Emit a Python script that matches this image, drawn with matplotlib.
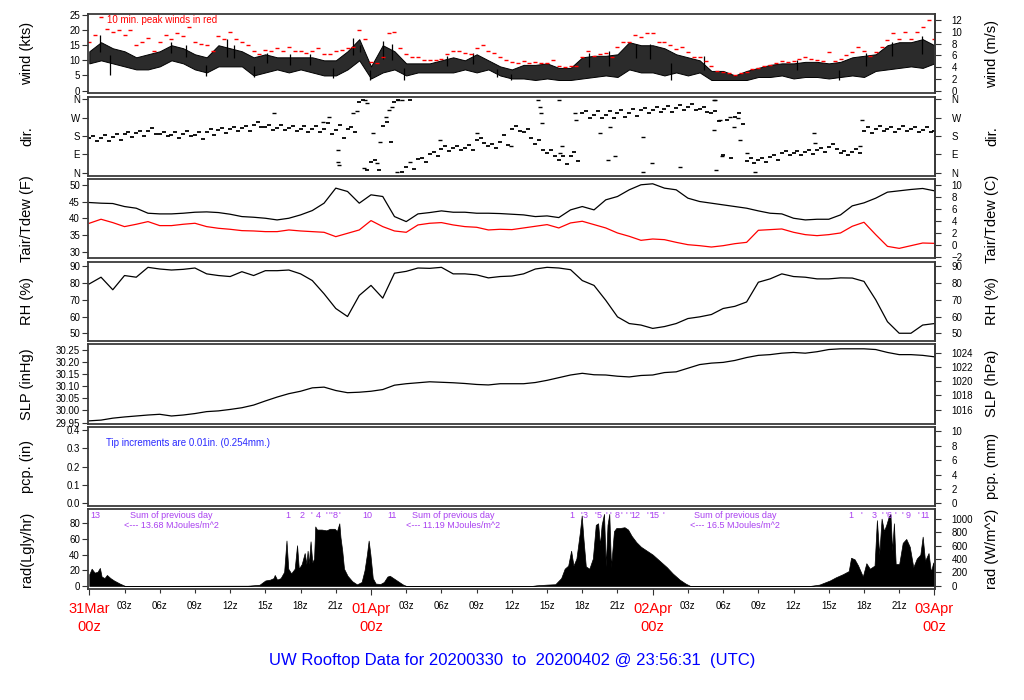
import numpy as np
import matplotlib
matplotlib.use('Agg')
import matplotlib.pyplot as plt
import matplotlib.transforms as mtrans

plt.rcParams['font.family'] = ['Liberation Sans', 'DejaVu Sans']

# ------------------------------------------------------------------ data
# time axis: hours after 31Mar 00z
hours = list(range(73))
half_hours = [0.5 * i for i in range(145)]

wind_lo = [9, 10, 9, 8, 7, 7, 8, 10, 9, 7,
           6, 8, 8, 8, 5, 6, 7, 6, 7, 6,
           5, 5, 7, 10, 4, 6, 7, 5, 6, 6,
           6, 6, 7, 6, 7, 5, 4, 4, 3.5, 4,
           3.5, 3.5, 4, 4.5, 5, 4.5, 7, 6, 6, 5,
           6, 5, 6, 3.5, 3.5, 3.5, 3.5, 4.5, 4.5, 5,
           4, 4.5, 4.5, 4, 4.5, 5, 4.5, 6.5, 7, 7.5,
           8, 7.5, 9]
wind_hi = [13, 16, 14, 13, 11, 12, 13, 15, 14, 12,
           11, 15, 14, 13, 11, 12, 11, 11, 11, 11,
           10, 10, 13, 17, 8, 15, 13, 9, 9, 9,
           10, 11, 10, 12, 10, 8, 7, 8.5, 8.5, 9,
           7.5, 7.5, 11, 11.5, 11.5, 12, 16, 15, 15, 14,
           12, 11, 10, 6.5, 6.5, 5, 6.5, 7.5, 8.5, 9,
           9, 9.5, 9.5, 9, 9.5, 11, 11.5, 12, 15, 16,
           16, 17, 15]
wind_spike_t = [0.9, 1.8, 7.0, 8.2, 9.9, 11.7, 12.3, 14.0, 15.1, 17.1, 18.8, 20.8,
                22.5, 23.1, 23.9, 25.0, 25.8, 26.8, 30.5, 32.7, 34.7, 35.9,
                42.6, 44.3, 46.6, 47.8, 49.6, 52.4, 60.3, 63.9, 66.2, 68.4, 70.9, 71.7]
wind_spike_v = [18.4, 5.0, 16.0, 15.0, 4.8, 17.0, 15.0, 4.5, 12.5, 12.0, 12.0, 4.0,
                17.5, 15.0, 3.5, 16.5, 15.5, 3.5, 11.5, 12.5, 4.5, 3.5,
                12.5, 13.0, 15.5, 15.5, 3.5, 11.5, 10.0, 3.5, 12.5, 16.0, 18.0, 12.0]
wind_peak = [16, 18.5, 24.5, 20.5, 19.5, 20, 18.5, 20, 15, 16,
             17.5, 13, 16, 18.5, 17, 19, 18, 21, 16, 15.5,
             15, 13, 18, 17, 19.5, 17, 16, 15, 13, 12,
             13.5, 13, 14, 13, 14.5, 13, 13, 12.5, 13, 14,
             12, 12, 13, 13.5, 14, 14.5, 20, 17, 9.5, 9,
             11, 19, 19.5, 14, 12, 11, 11, 10, 10, 10,
             10.5, 12, 13, 13, 12.5, 12, 14, 15, 13, 12.5,
             11, 10, 9.5, 9, 9.8, 9.2, 9.5, 9, 9.2, 10,
             8, 7.8, 8, 8.2, 11, 13, 11.5, 12, 12.5, 11,
             14.3, 16, 16, 18.3, 17.7, 18.9, 18.9, 16, 16, 15,
             13.8, 14.3, 12.6, 11, 11, 9.8, 8, 6.4, 6, 5.8,
             5.2, 5.8, 6, 7, 7.5, 8, 8.6, 9.2, 9.8, 9.4,
             9.8, 10.6, 11, 10.3, 10, 9.8, 12.6, 9.8, 10.3, 11.7,
             12.6, 14.3, 13.2, 11.5, 12.8, 14.3, 16.6, 18.9, 17.2, 19.4,
             17.2, 19.4, 21.1, 23.4, 17.2]

dir_mid = [170, 168, 176, 190, 196, 205, 192, 186, 190, 186,
           200, 208, 215, 218, 236, 222, 220, 218, 216, 212,
           216, 210, 215, 345, 55, 230, 345, 30, 66, 92,
           118, 120, 122, 160, 130, 150, 216, 200, 140, 95,
           62, 80, 290, 283, 285, 290, 292, 305, 308, 310,
           318, 322, 310, 290, 85, 275, 60, 62, 78, 95,
           96, 104, 112, 128, 98, 104, 205, 215, 212, 216,
           212, 210, 203]
dir_hi = [182, 185, 190, 200, 205, 220, 202, 198, 205, 200,
          212, 220, 225, 228, 250, 232, 235, 228, 230, 228,
          245, 235, 225, 355, 65, 250, 358, 355, 75, 100,
          130, 130, 135, 170, 140, 185, 228, 215, 160, 110,
          80, 100, 300, 300, 300, 305, 310, 318, 320, 325,
          330, 335, 322, 300, 260, 290, 72, 75, 88, 105,
          108, 112, 122, 140, 108, 115, 225, 228, 225, 228,
          225, 222, 212]
dir_lo = [155, 158, 160, 175, 182, 192, 180, 172, 178, 165,
          185, 195, 205, 206, 222, 210, 208, 205, 200, 198,
          190, 170, 200, 12, 12, 150, 5, 20, 55, 82,
          108, 112, 112, 145, 120, 135, 205, 170, 110, 80,
          45, 60, 270, 268, 270, 275, 280, 290, 295, 298,
          305, 305, 295, 255, 75, 240, 50, 52, 65, 85,
          85, 92, 100, 118, 88, 95, 195, 205, 200, 205,
          200, 198, 195]
dir_out_t = [15.7, 19.9, 20.4, 21.2, 21.2, 21.3, 22.5, 22.8, 23.4, 23.5, 23.7, 24.2,
             24.5, 24.8, 25.3, 25.5, 25.8, 26.2, 26.3, 26.6, 27.3, 29.9, 33.0, 35.9,
             38.2, 38.4, 38.5, 38.6, 40.0, 40.1, 40.3, 41.4, 41.5, 43.5, 44.2, 44.4,
             44.8, 47.2, 47.2, 47.9, 50.3, 53.2, 53.3, 53.2, 53.4, 53.7, 53.9, 54.6,
             54.9, 55.3, 55.4, 56.0, 56.7, 61.7, 61.8, 65.7, 65.8]
dir_out_v = [291, 250, 275, 112, 55, 40, 291, 300, 23, 357, 340, 194,
             47, 153, 275, 308, 324, 6, 357, 357, 55, 161, 194, 129,
             357, 324, 291, 243, 357, 96, 130, 291, 260, 194, 63, 226,
             80, 6, 177, 47, 31, 357, 357, 210, 15, 259, 80, 275,
             226, 267, 161, 96, 6, 194, 145, 129, 259]

tair = [44.7, 44.5, 44.4, 43.5, 43.0, 41.5, 41.3, 41.3, 41.5, 41.8,
        41.9, 41.7, 41.2, 40.5, 40.3, 40.0, 39.5, 40.0, 41.0, 42.3,
        44.5, 49.0, 48.0, 44.5, 47.0, 46.5, 40.5, 39.0, 41.3, 41.7,
        42.2, 41.8, 41.8, 41.5, 41.5, 41.4, 41.2, 41.0, 40.5, 40.7,
        40.2, 42.5, 43.5, 42.5, 45.5, 46.5, 48.5, 50.0, 50.3, 49.0,
        48.5, 46.0, 45.0, 44.5, 44.0, 43.5, 43.0, 42.2, 41.5, 41.3,
        40.0, 39.5, 39.7, 39.7, 41.0, 43.7, 44.6, 46.0, 47.8, 48.2,
        48.6, 48.9, 48.2]
tdew = [38.5, 39.7, 38.7, 37.5, 38.2, 39.0, 37.8, 37.8, 38.2, 38.5,
        37.5, 37.0, 36.7, 36.3, 36.2, 36.0, 36.0, 36.5, 36.2, 36.0,
        35.8, 34.5, 35.5, 36.5, 39.3, 37.5, 36.2, 35.8, 38.0, 38.5,
        38.7, 38.0, 37.5, 37.3, 36.5, 36.7, 36.6, 37.1, 37.6, 38.1,
        37.1, 38.6, 39.1, 38.1, 37.1, 35.6, 34.6, 33.4, 33.8, 33.6,
        32.8, 32.1, 31.8, 31.4, 31.8, 32.4, 32.8, 36.4, 36.6, 36.8,
        35.8, 35.1, 34.8, 35.1, 35.6, 37.6, 38.8, 35.1, 31.6, 31.0,
        31.8, 32.6, 32.5]
rh = [79.5, 83.5, 76.0, 84.5, 83.5, 89.4, 88.4, 87.8, 88.2, 89.0,
      85.5, 84.5, 83.9, 86.8, 84.5, 87.4, 87.4, 87.8, 85.5, 81.5,
      73.6, 64.8, 60.0, 72.6, 78.6, 71.0, 85.9, 87.0, 89.0, 88.8,
      89.4, 85.5, 85.5, 84.9, 83.1, 83.9, 84.2, 85.5, 88.4, 89.4,
      89.0, 88.0, 81.5, 78.6, 69.7, 59.8, 55.8, 54.9, 52.9, 54.0,
      55.8, 58.8, 59.8, 61.2, 64.8, 66.1, 68.7, 80.5, 82.5, 85.5,
      83.9, 83.5, 82.5, 82.5, 83.1, 83.0, 81.0, 70.0, 56.9, 50.0,
      50.0, 54.9, 55.8]
slp = [29.957, 29.960, 29.968, 29.973, 29.977, 29.981, 29.984, 29.977, 29.981, 29.987,
       29.995, 29.998, 30.004, 30.011, 30.022, 30.039, 30.055, 30.069, 30.079, 30.093,
       30.096, 30.082, 30.073, 30.075, 30.079, 30.086, 30.104, 30.110, 30.114, 30.118,
       30.116, 30.114, 30.111, 30.107, 30.105, 30.110, 30.110, 30.110, 30.115, 30.124,
       30.135, 30.146, 30.153, 30.147, 30.146, 30.141, 30.138, 30.144, 30.146, 30.156,
       30.159, 30.174, 30.189, 30.195, 30.198, 30.206, 30.218, 30.227, 30.230, 30.236,
       30.239, 30.236, 30.242, 30.251, 30.254, 30.254, 30.254, 30.251, 30.239, 30.230,
       30.230, 30.227, 30.221]

rad_t = [0.0, 0.2, 0.45, 0.7, 0.9, 1.05, 1.3, 1.5, 1.8, 2.1, 2.6, 3.05,
         13.5, 14.5, 15.0, 15.4, 15.7, 15.8, 16.0, 16.3, 16.6, 16.8,
         16.95, 17.2, 17.5, 17.7, 17.85, 18.1, 18.35, 18.5, 18.6, 18.7,
         18.85, 19.0, 19.15, 19.25, 19.4, 19.8, 20.2, 20.5, 20.9, 21.1,
         21.3, 21.4, 21.55, 21.7, 22.0, 22.4, 22.8, 23.2, 23.45, 23.65,
         23.8, 23.95, 24.15, 24.4, 24.8, 25.1, 25.4, 25.6, 25.9, 26.3,
         26.7, 27.0,
         37.7, 38.1, 39.0, 39.7, 40.2, 40.5, 40.8, 41.05, 41.25, 41.5,
         41.8, 41.95, 42.1, 42.3, 42.6, 42.9, 43.15, 43.35, 43.5, 43.65,
         43.85, 44.0, 44.15, 44.3, 44.45, 44.7, 44.9, 45.2, 45.6, 45.9,
         46.2, 46.6, 47.0, 47.5, 48.0, 48.6, 49.2, 49.7, 50.3, 50.8, 51.2,
         61.4, 62.2, 63.1, 63.6, 64.2, 64.7, 64.9, 65.2, 65.5, 65.9,
         66.2, 66.5, 66.9, 67.1, 67.3, 67.5, 67.7, 67.9, 68.1, 68.25,
         68.4, 68.55, 68.7, 69.0, 69.3, 69.6, 69.9, 70.2, 70.5, 70.8,
         71.0, 71.2, 71.5, 71.7, 71.9, 72.0]
rad_v = [15, 22, 17, 18, 23, 12, 10, 14, 10, 7, 3, 0,
         0.3, 1.5, 7, 8, 10, 14, 8, 10, 18, 58,
         22, 16, 22, 52, 22, 28, 42, 28, 45, 28,
         57, 30, 35, 76, 72, 72, 71, 73, 73, 70,
         80, 62, 45, 22, 13, 6, 2, 5, 20, 40,
         58, 40, 10, 3, 2.5, 5, 12, 13, 10, 6,
         2, 0,
         0, 0.8, 1.7, 2.2, 10, 22, 26, 45, 26, 35,
         69, 90, 60, 25, 22, 35, 78, 80, 52, 78,
         92, 25, 78, 92, 24, 70, 74, 74, 75, 72,
         64, 56, 50, 45, 40, 32, 24, 16, 8, 3, 0,
         0, 1.7, 7, 11, 15, 19, 36, 34, 26, 12,
         29, 22, 26, 84, 40, 86, 70, 78, 88, 92,
         45, 80, 28, 28, 55, 60, 50, 24, 35, 40,
         63, 32, 42, 18, 30, 17]

mark_t = [0.55, 16.95, 18.14, 18.94, 19.5, 20.16, 20.44, 20.65, 20.95, 21.33, 23.65, 25.76,
          41.09, 41.94, 42.28, 43.08, 43.44, 44.07, 44.41, 44.97, 45.35, 45.72, 46.06, 46.48,
          47.53, 47.79, 48.13, 48.95,
          64.9, 65.8, 66.85, 67.6, 67.9, 68.15, 68.7, 69.3, 69.75, 70.6, 71.2]
mark_s = ['13', '1', '2', "'", '4', "'", "'", "'", '8', "'", '10', '11',
          '1', "'", '3', "'", '5', "'", "'", '8', "'", "'", "'", '12',
          "'", "'", '15', "'",
          '1', "'", '3', "'", "'", '6', "'", "'", '9', "'", '11']
sum_t = [7.0, 31.0, 55.0]
sum_vals = ['13.68', '11.19', '16.5']

tick3_hours = [h for h in range(3, 72, 3) if h % 24]
tick3_labels = ['%02dz' % (h % 24) for h in tick3_hours]
day_hours = [0, 24, 48, 72]
day_labels = ['31Mar', '01Apr', '02Apr', '03Apr']

left_labels = ['wind (kts)', 'dir.', 'Tair/Tdew (F)', 'RH (%)', 'SLP (inHg)', 'pcp. (in)', 'rad(Lgly/hr)']
right_labels = ['wind (m/s)', 'dir.', 'Tair/Tdew (C)', 'RH (%)', 'SLP (hPa)', 'pcp. (mm)', 'rad (W/m^2)']

# ------------------------------------------------------------------ layout
FW, FH = 1024.0, 700.0
fig = plt.figure(figsize=(FW / 100, FH / 100), dpi=100)
x0, x1 = 88.3, 935.0
ph = 79.3
tops = [14.0 + 82.55 * i for i in range(7)]
axes = [fig.add_axes([x0 / FW, 1 - (t + ph) / FH, (x1 - x0) / FW, ph / FH]) for t in tops]

FRAME = '#3a3a3a'
TICKC = '#333333'
for ax in axes:
    ax.set_xlim(-0.085, 72.05)
    for s in ax.spines.values():
        s.set_color(FRAME)
        s.set_linewidth(1.3)
    ax.tick_params(axis='y', which='both', direction='out', length=4, width=0.8,
                   pad=2, labelsize=7, color=TICKC)
    ax.tick_params(axis='x', which='both', bottom=False, labelbottom=False)


def right_axis(ax, fwd, inv, ticks, labels=None):
    sec = ax.secondary_yaxis('right', functions=(fwd, inv))
    sec.set_yticks(ticks)
    if labels is not None:
        sec.set_yticklabels(labels)
    sec.tick_params(direction='out', length=4, width=0.8, pad=8, labelsize=7, color=TICKC)
    sec.spines['right'].set_color(FRAME)
    sec.spines['right'].set_linewidth(1.3)
    return sec


# ---- wind
ax = axes[0]
ax.set_ylim(-0.9, 25.33)
ax.set_yticks([0, 5, 10, 15, 20, 25])
ax.fill_between(hours, wind_lo, wind_hi, facecolor='#2b2b2b', linewidth=0.7, edgecolor='black')
mid = np.interp(wind_spike_t, hours, (np.array(wind_lo) + np.array(wind_hi)) / 2)
ax.vlines(wind_spike_t, mid, wind_spike_v, color='black', linewidth=0.9)
ax.plot(half_hours, wind_peak, linestyle='none', marker='_', markersize=3,
        markeredgewidth=1.0, color='red')
ax.text(1.48, 0.924, '10 min. peak winds in red', transform=mtrans.blended_transform_factory(
    ax.transData, ax.transAxes), color='red', fontsize=7, va='center', ha='left')
right_axis(ax, lambda k: k / 1.94384, lambda m: m * 1.94384, [0, 2, 4, 6, 8, 10, 12])

# ---- direction
ax = axes[1]
ax.set_ylim(-14.6, 372.7)
ax.set_yticks([0, 90, 180, 270, 360])
ax.set_yticklabels(['N', 'E', 'S', 'W', 'N'])
hh = np.array(hours, dtype=float)
for tt, vv in ((hh, dir_mid), (hh + 1 / 3, dir_hi), (hh + 2 / 3, dir_lo)):
    ax.plot(tt, vv, linestyle='none', marker='_', markersize=3.4, markeredgewidth=1.3, color='black')
ax.plot(dir_out_t, dir_out_v, linestyle='none', marker='_', markersize=3,
        markeredgewidth=1.0, color='black')
right_axis(ax, lambda d: d, lambda d: d, [0, 90, 180, 270, 360], ['N', 'E', 'S', 'W', 'N'])

# ---- temperature
ax = axes[2]
ax.set_ylim(28.0, 51.7)
ax.set_yticks([30, 35, 40, 45, 50])
ax.plot(hours, tair, color='black', linewidth=0.9)
ax.plot(hours, tdew, color='red', linewidth=0.9)
right_axis(ax, lambda f: (f - 32) / 1.8, lambda c: c * 1.8 + 32, [-2, 0, 2, 4, 6, 8, 10])

# ---- RH
ax = axes[3]
ax.set_ylim(45.4, 92.8)
ax.set_yticks([50, 60, 70, 80, 90])
ax.plot(hours, rh, color='black', linewidth=0.9)
right_axis(ax, lambda r: r, lambda r: r, [50, 60, 70, 80, 90])

# ---- SLP
ax = axes[4]
ax.set_ylim(29.946, 30.273)
ax.set_yticks([29.95, 30.00, 30.05, 30.10, 30.15, 30.20, 30.25])
ax.set_yticklabels(['%.2f' % v for v in [29.95, 30.00, 30.05, 30.10, 30.15, 30.20, 30.25]])
ax.plot(hours, slp, color='black', linewidth=0.9)
right_axis(ax, lambda p: p * 33.8639, lambda p: p / 33.8639, [1014, 1016, 1018, 1020, 1022, 1024])

# ---- precipitation
ax = axes[5]
ax.set_ylim(-0.0146, 0.418)
ax.set_yticks([0.0, 0.1, 0.2, 0.3, 0.4])
ax.set_yticklabels(['0.0', '0.1', '0.2', '0.3', '0.4'])
ax.text(1.42, 0.80, 'Tip increments are 0.01in. (0.254mm.)',
        transform=mtrans.blended_transform_factory(ax.transData, ax.transAxes),
        color='#2a2aff', fontsize=7, va='center', ha='left')
right_axis(ax, lambda i: i * 25.4, lambda m: m / 25.4, [0, 2, 4, 6, 8, 10])

# ---- radiation
ax = axes[6]
ax.set_ylim(-3.4, 97.9)
ax.set_yticks([0, 20, 40, 60, 80])
ax.fill_between(rad_t, 0, rad_v, color='black', linewidth=0.5)
right_axis(ax, lambda l: l * 11.622, lambda w: w / 11.622, [0, 200, 400, 600, 800, 1000])
PURPLE = '#A93FF0'
tr_ax = mtrans.blended_transform_factory(ax.transData, ax.transAxes)
for t, s in zip(mark_t, mark_s):
    ax.text(t, 0.928, s, transform=tr_ax, color=PURPLE, fontsize=6.5, ha='center', va='center')
for t, v in zip(sum_t, sum_vals):
    ax.text(t, 0.928, 'Sum of previous day', transform=tr_ax, color=PURPLE,
            fontsize=6.5, ha='center', va='center')
    ax.text(t, 0.793, '<--- %s MJoules/m^2' % v, transform=tr_ax, color=PURPLE,
            fontsize=6.5, ha='center', va='center')

ax.set_xticks(day_hours)
ax.set_xticks(tick3_hours, minor=True)
ax.tick_params(axis='x', which='major', bottom=True, length=4.3, width=0.8, color=TICKC,
               labelbottom=False)
ax.tick_params(axis='x', which='minor', bottom=True, length=2.6, width=0.8, color=TICKC,
               labelbottom=False)
tr_fig = mtrans.blended_transform_factory(ax.transData, fig.transFigure)
for h, lab in zip(tick3_hours, tick3_labels):
    ax.text(h, 1 - 606 / FH, lab, transform=tr_fig, fontsize=7, ha='center', va='center',
            clip_on=False)
for h, lab in zip(day_hours, day_labels):
    ax.text(h, 1 - 609 / FH, lab, transform=tr_fig, fontsize=10.5, color='red',
            ha='center', va='center', clip_on=False)
    ax.text(h, 1 - 627 / FH, '00z', transform=tr_fig, fontsize=10.5, color='red',
            ha='center', va='center', clip_on=False)

# ---- side labels
for t, l, r in zip(tops, left_labels, right_labels):
    yc = 1 - (t + ph / 2) / FH
    fig.text(27 / FW, yc, l, rotation=90, ha='center', va='center', fontsize=10.5)
    fig.text(992 / FW, yc, r, rotation=90, ha='center', va='center', fontsize=10.5)

fig.text(512 / FW, 1 - 660 / FH, 'UW Rooftop Data for 20200330  to  20200402 @ 23:56:31  (UTC)',
         color='#0000FF', fontsize=12, ha='center', va='center')

fig.savefig('out.png', dpi=100)
